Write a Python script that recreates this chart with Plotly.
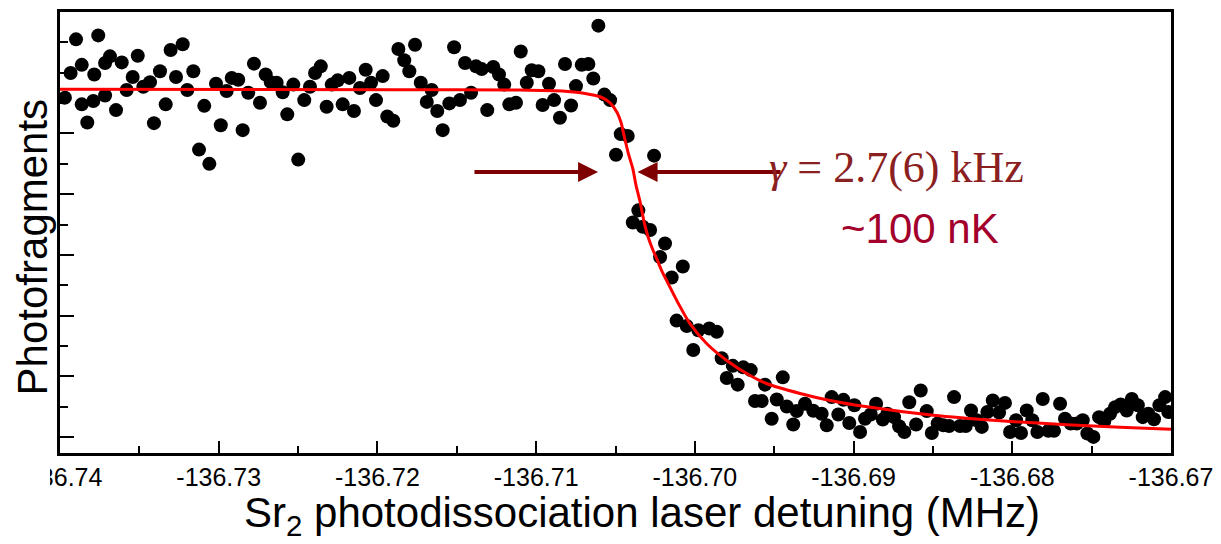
import plotly.graph_objects as go

# Measured photofragment signal vs. detuning (MHz)
detuning = [
    -136.73969, -136.73933, -136.73899, -136.73863, -136.73863, -136.73828, -136.73790, -136.73784,
    -136.73759, -136.73716, -136.73716, -136.73685, -136.73647, -136.73611, -136.73580, -136.73542,
    -136.73510, -136.73475, -136.73433, -136.73408, -136.73370, -136.73334, -136.73303, -136.73269,
    -136.73227, -136.73198, -136.73160, -136.73124, -136.73091, -136.73059, -136.73017, -136.72987,
    -136.72950, -136.72918, -136.72877, -136.72849, -136.72814, -136.72778, -136.72740, -136.72704,
    -136.72672, -136.72635, -136.72597, -136.72568, -136.72530, -136.72499, -136.72461, -136.72425,
    -136.72393, -136.72357, -136.72320, -136.72288, -136.72250, -136.72219, -136.72177, -136.72148,
    -136.72110, -136.72074, -136.72040, -136.72009, -136.71967, -136.71938, -136.71900, -136.71868,
    -136.71831, -136.71799, -136.71763, -136.71727, -136.71689, -136.71658, -136.71623, -136.71589,
    -136.71547, -136.71517, -136.71480, -136.71448, -136.71410, -136.71379, -136.71343, -136.71308,
    -136.71270, -136.71234, -136.71201, -136.71169, -136.71127, -136.71097, -136.71059, -136.71028,
    -136.70986, -136.70959, -136.70919, -136.70887, -136.70850, -136.70818, -136.70780, -136.70749,
    -136.70713, -136.70671, -136.70640, -136.70608, -136.70570, -136.70534, -136.70497, -136.70467,
    -136.70423, -136.70391, -136.70356, -136.70328, -136.70282, -136.70257, -136.70219, -136.70188,
    -136.70146, -136.70115, -136.70076, -136.70051, -136.70010, -136.69978, -136.69909, -136.69862,
    -136.69831, -136.69799, -136.69761, -136.69730, -136.69695, -136.69648, -136.69621, -136.69579,
    -136.69558, -136.69516, -136.69484, -136.69446, -136.69421, -136.69380, -136.69358, -136.69306,
    -136.69254, -136.69201, -136.69169, -136.69138, -136.69096, -136.69064, -136.69027, -136.68995,
    -136.68959, -136.68928, -136.68892, -136.68858, -136.68816, -136.68787, -136.68745, -136.68713,
    -136.68680, -136.68649, -136.68606, -136.68577, -136.68539, -136.68507, -136.68470, -136.68434,
    -136.68398, -136.68367, -136.68329, -136.68293, -136.68260, -136.68224, -136.68192, -136.68157,
    -136.68123, -136.68083, -136.68046, -136.68014, -136.67976, -136.67945, -136.67909, -136.67874,
    -136.67842, -136.67808, -136.67773, -136.67737, -136.67699, -136.67668, -136.67632, -136.67594,
    -136.67556, -136.67527, -136.67489, -136.67453, -136.67420, -136.67384, -136.67352, -136.67317,
    -136.67279, -136.67247, -136.67209, -136.67178, -136.67143, -136.67107, -136.67073, -136.67037,
    -136.67017,
]
photofragments = [
    131.8, 139.9, 151.0, 142.6, 129.6, 123.6, 130.7, 139.4,
    152.3, 143.2, 132.5, 145.4, 127.7, 143.4, 134.3, 138.6,
    145.6, 135.4, 136.9, 123.4, 140.5, 129.6, 147.5, 138.6,
    149.4, 134.3, 140.5, 114.7, 129.1, 110.0, 136.4, 122.7,
    134.0, 138.3, 137.7, 121.1, 133.4, 143.0, 130.1, 139.4,
    136.9, 136.7, 133.6, 126.3, 136.1, 111.4, 131.0, 135.4,
    139.9, 142.1, 128.8, 136.1, 137.5, 129.6, 138.3, 127.4,
    135.0, 141.0, 136.7, 131.0, 138.9, 125.6, 124.2, 147.8,
    144.1, 140.5, 149.2, 136.7, 130.4, 134.3, 127.4, 121.1,
    129.9, 148.4, 131.0, 143.2, 133.4, 142.1, 141.2, 127.7,
    141.9, 139.4, 136.1, 129.6, 130.1, 147.0, 136.7, 140.8,
    140.5, 129.4, 136.4, 131.0, 125.2, 142.9, 129.2, 135.6,
    142.6, 142.9, 138.1, 155.5, 132.8, 131.0, 113.0, 119.8,
    119.2, 90.7, 94.7, 89.3, 88.2, 112.7, 79.3, 83.8,
    72.6, 58.4, 76.2, 56.6, 48.7, 55.2, 55.8, 54.7,
    46.0, 39.5, 43.5, 37.3, 43.0, 42.1, 31.9, 31.9,
    37.3, 26.1, 32.4, 39.7, 30.1, 24.2, 28.6, 31.0,
    28.7, 27.7, 23.9, 33.2, 27.5, 32.3, 24.7, 30.5,
    21.7, 26.1, 27.5, 31.0, 25.8, 27.7, 26.6, 23.6,
    21.7, 31.5, 24.2, 35.4, 28.6, 21.4, 24.5, 23.9,
    23.7, 33.2, 23.7, 23.7, 28.8, 25.6, 23.4, 28.3,
    32.1, 28.1, 31.3, 21.7, 25.6, 21.4, 28.8, 25.6,
    21.7, 32.6, 22.1, 22.1, 31.0, 26.1, 24.5, 24.5,
    25.6, 21.2, 20.1, 26.6, 25.3, 27.7, 29.9, 30.8,
    28.8, 32.6, 30.5, 26.6, 27.7, 25.9, 30.5, 33.2,
    28.3,
]

# Fitted line shape
fit_detuning = [
    -136.74000, -136.71858, -136.71102, -136.70818, -136.70692, -136.70597, -136.70534, -136.70490,
    -136.70465, -136.70446, -136.70421, -136.70390, -136.70371, -136.70345, -136.70320, -136.70295,
    -136.70270, -136.70238, -136.70207, -136.70175, -136.70112, -136.70030, -136.69923, -136.69797,
    -136.69652, -136.69545, -136.69337, -136.69148, -136.68915, -136.68499, -136.68077, -136.67655,
    -136.67321, -136.67000,
]
fit_signal = [
    134.6, 134.4, 134.3, 133.9, 133.2, 132.1, 130.1, 126.9,
    123.6, 119.3, 113.8, 108.2, 103.0, 97.5, 90.9, 86.0,
    82.4, 78.5, 74.6, 71.3, 64.8, 57.3, 50.7, 45.2,
    40.3, 37.6, 34.4, 32.1, 30.0, 27.2, 25.4, 24.1,
    23.3, 22.6,
]

x_range = [-136.74, -136.67]
y_range = [14.8, 160.0]
x_tick_vals = [-136.74, -136.73, -136.72, -136.71, -136.70, -136.69, -136.68, -136.67]
x_tick_text = ["-136.74", "-136.73", "-136.72", "-136.71", "-136.70", "-136.69", "-136.68", "-136.67"]

# Annotation anchors (data coordinates)
arrow_left_from, arrow_left_to = -136.71398, -136.70610
arrow_right_from, arrow_right_to = -136.69451, -136.70361
arrow_y = 107.3
gamma_x, gamma_y = -136.69545, 108.9
temp_x, temp_y = -136.69090, 88.6

FONT = "Arial, 'Liberation Sans', sans-serif"
ARROW = "#7f0000"

fig = go.Figure()
fig.add_trace(go.Scatter(
    x=detuning, y=photofragments, mode="markers",
    marker=dict(color="black", size=14, line=dict(width=0)),
    showlegend=False, hoverinfo="skip",
))
fig.add_trace(go.Scatter(
    x=fit_detuning, y=fit_signal, mode="lines",
    line=dict(color="#ff0000", width=3, shape="spline", smoothing=0.6),
    showlegend=False, hoverinfo="skip",
))

for x_from, x_to in [(arrow_left_from, arrow_left_to), (arrow_right_from, arrow_right_to)]:
    fig.add_annotation(
        x=x_to, y=arrow_y, ax=x_from, ay=arrow_y,
        xref="x", yref="y", axref="x", ayref="y",
        text="", showarrow=True, arrowhead=2, arrowsize=1.0,
        arrowwidth=4, arrowcolor=ARROW,
    )

fig.add_annotation(
    x=gamma_x, y=gamma_y, xref="x", yref="y", xanchor="left", yanchor="middle",
    text="<i>γ</i> = 2.7(6) kHz", showarrow=False,
    font=dict(family="'Liberation Serif', 'DejaVu Serif', serif", size=44, color="#8b2020"),
)
fig.add_annotation(
    x=temp_x, y=temp_y, xref="x", yref="y", xanchor="left", yanchor="middle",
    text="~100 nK", showarrow=False,
    font=dict(family=FONT, size=42, color="#a3002b"),
)

# axis titles
fig.add_annotation(
    x=-0.0245, y=0.468, xref="paper", yref="paper", xanchor="center", yanchor="middle",
    text="Photofragments", textangle=-90, showarrow=False,
    font=dict(family=FONT, size=42, color="black"),
)
fig.add_annotation(
    x=0.524, y=-0.142, xref="paper", yref="paper", xanchor="center", yanchor="middle",
    text="Sr<sub>2</sub> photodissociation laser detuning (MHz)", showarrow=False,
    font=dict(family=FONT, size=42, color="black"),
)

# the left-most tick label is cut off in the original figure
fig.add_shape(
    type="rect", xref="paper", yref="paper", x0=-0.06, x1=-0.009, y0=-0.095, y1=-0.012,
    fillcolor="white", line=dict(width=0), layer="above",
)

fig.update_xaxes(
    range=x_range, tickvals=x_tick_vals, ticktext=x_tick_text,
    showline=True, linecolor="black", linewidth=3, mirror=True,
    ticks="inside", ticklen=12, tickwidth=2, tickcolor="black",
    minor=dict(dtick=0.005, tick0=-136.74, ticks="inside", ticklen=7, tickwidth=2, tickcolor="black"),
    showgrid=False, zeroline=False,
    tickfont=dict(family=FONT, size=25, color="black"),
)
fig.update_yaxes(
    range=y_range, tick0=0, dtick=20, showticklabels=False,
    showline=True, linecolor="black", linewidth=3, mirror=True,
    ticks="inside", ticklen=14, tickwidth=2, tickcolor="black",
    minor=dict(tick0=0, dtick=10, ticks="inside", ticklen=8, tickwidth=2, tickcolor="black"),
    showgrid=False, zeroline=False,
)

# the page body adds an 8px offset; size the figure so the plot area lands where it should
fig.update_layout(
    width=1213, height=536,
    margin=dict(l=52, r=50, t=1, b=91),
    paper_bgcolor="white", plot_bgcolor="white",
    font=dict(family=FONT, color="black"),
)

fig.write_html("out.html")
